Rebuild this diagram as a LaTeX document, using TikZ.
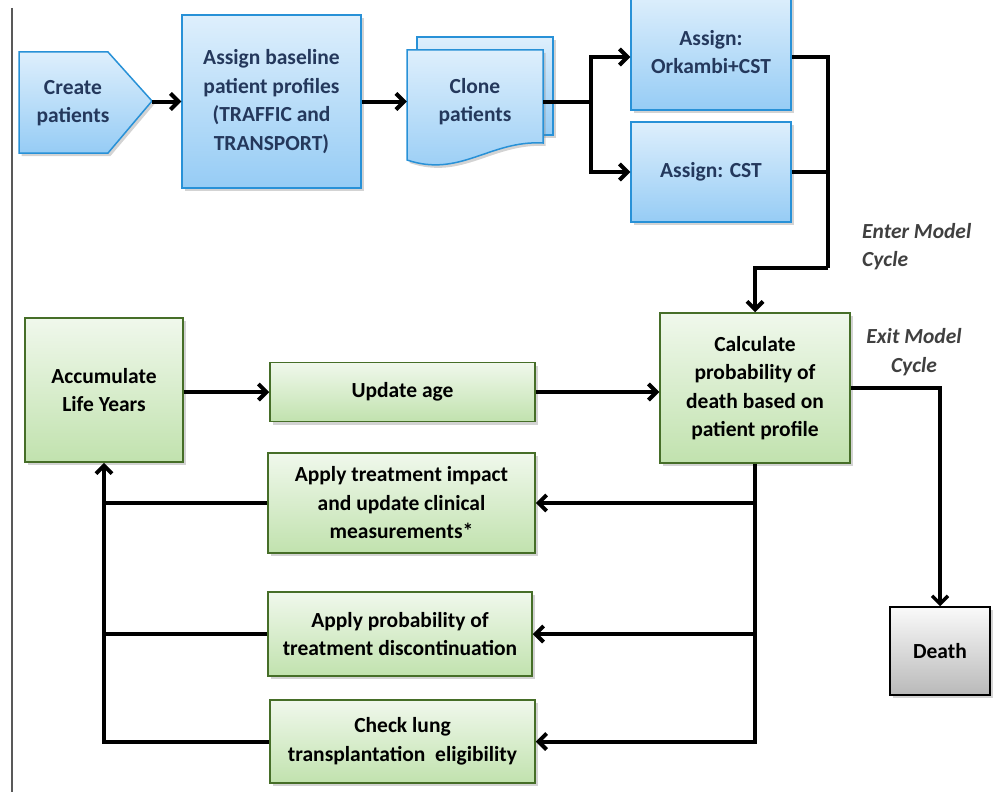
\documentclass[tikz,border=0pt]{standalone}
\usepackage{fontspec}
\setmainfont{Carlito}
\usetikzlibrary{arrows.meta, shadows, positioning}
\definecolor{blueline}{RGB}{40,145,215}
\definecolor{bluetop}{RGB}{222,239,252}
\definecolor{bluebot}{RGB}{150,204,245}
\definecolor{bluetext}{RGB}{36,56,92}
\definecolor{greenline}{RGB}{70,110,40}
\definecolor{greentop}{RGB}{240,248,236}
\definecolor{greenbot}{RGB}{193,226,174}
\definecolor{greytop}{RGB}{250,250,250}
\definecolor{greybot}{RGB}{185,185,185}
\definecolor{notegrey}{RGB}{64,64,64}

\begin{document}
\begin{tikzpicture}[
    x=1pt, y=-1pt,
    every node/.style={font=\bfseries\fontsize{21.5}{28.5}\selectfont,
    align=center, inner sep=0pt},
    shade box/.style={line width=1.5pt, drop shadow={shadow xshift=2.5pt,
    shadow yshift=-3pt, opacity=0.35}},
    blue box/.style={shade box, draw=blueline, top color=bluetop,
    bottom color=bluebot, text=bluetext},
    green box/.style={shade box, draw=greenline, top color=greentop,
    bottom color=greenbot, text=black},
    grey box/.style={shade box, draw=black, top color=greytop,
    bottom color=greybot, text=black},
    link/.style={line width=4pt},
    flow/.style={link, -{Straight Barb[length=8pt, width=16pt]}},
    note/.style={font=\bfseries\itshape\fontsize{21.5}{28.5}\selectfont,
    text=notegrey}
    ]
    \useasboundingbox (0,0) rectangle (993,792);
    % page rule
    \draw[line width=2pt, gray!70!black] (12,8) -- (12,792);

    % Entry shapes
    \path[blue box] (19,52) -- (108,52) -- (152,101) -- (108,153)
        -- (19,153) -- cycle;
    \node[text=bluetext] (create) at (73,103) {Create\\patients};
    \coordinate (createtip) at (152,101.5);
    \node[blue box, minimum width=179pt, minimum height=173pt] (base)
        at (271.5,101.5) {Assign baseline\\patient profiles\\(TRAFFIC and\\TRANSPORT)};
    % Clone (stacked sheets)
    \path[blue box] (417,37) rectangle (553,135);
    \path[blue box] (407,50) -- (543,50) -- (543,143)
        .. controls (490,140) and (460,178) .. (407,160) -- cycle;
    \node[text=bluetext, minimum width=136pt] (clone) at (475,101.5)
        {Clone\\patients};
    \node[blue box, minimum width=160pt, minimum height=116pt] (ork)
        at (711,52) {Assign:\\Orkambi+CST};
    \node[blue box, minimum width=160pt, minimum height=100pt] (cst)
        at (711,172) {Assign: CST};

    % Model cycle
    \node[green box, minimum width=190pt, minimum height=150pt] (calc)
        at (755,388) {Calculate\\probability of\\death based on\\patient profile};
    \node[green box, minimum width=158pt, minimum height=144pt] (accum)
        at (104,390) {Accumulate\\Life Years};
    \node[green box, minimum width=265pt, minimum height=59pt] (upd)
        at (402.5,392) {Update age};
    \node[green box, minimum width=267pt, minimum height=100pt] (treat)
        at (401.5,503) {Apply treatment impact\\and update clinical\\measurements*};
    \node[green box, minimum width=264pt, minimum height=84pt] (disc)
        at (400,634) {Apply probability of\\treatment discontinuation};
    \node[green box, minimum width=265pt, minimum height=83pt] (lung)
        at (402.5,741.5) {Check lung\\transplantation\ \ eligibility};
    \node[grey box, minimum width=100pt, minimum height=88pt] (death)
        at (940,651) {Death};

    % Notes
    \node[note, align=left, anchor=west] (enternote) at (862,246.5)
        {Enter Model\\Cycle};
    \node[note] (exitnote) at (914,352) {Exit Model\\Cycle};

    % Arrows
    \draw[flow] (createtip) -- (base.west);
    \draw[flow] (base.east) -- (clone.west);
    \coordinate (split) at (591,101.5);
    \draw[link] (clone.east) -- (split);
    \draw[flow] (split) |- ([yshift=-5pt]ork.west);
    \draw[flow] (split) |- (cst.west);
    \coordinate (enter) at (828,268);
    \draw[link] ([yshift=-5pt]ork.east) -| (enter);
    \draw[link] (cst.east) -- (cst.east -| enter);
    \draw[flow] (enter) -| (calc.north);
    \draw[flow, line width=3.5pt] (calc.east) -| (death.north);
    \draw[flow] (accum.east |- upd.west) -- (upd.west);
    \draw[flow] (upd.east) -- (upd.east -| calc.west);
    \draw[flow] (calc.south) |- (treat.east);
    \draw[flow] (calc.south) |- (disc.east);
    \draw[flow] (calc.south) |- (lung.east);
    \draw[link] (treat.west) -- (treat.west -| accum.south);
    \draw[link] (disc.west) -- (disc.west -| accum.south);
    \draw[flow] (lung.west) -| (accum.south);
\end{tikzpicture}
\end{document}
